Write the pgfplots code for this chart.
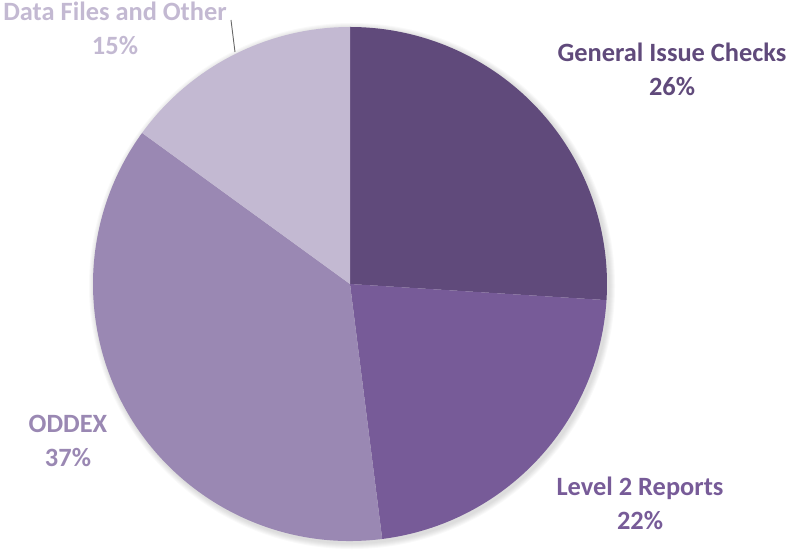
\documentclass[border=0pt]{standalone}
\usepackage{pgfplots}
\pgfplotsset{compat=1.18}
\usepackage{fontspec}
\setmainfont{Carlito}
\definecolor{genc}{HTML}{604A7B}
\definecolor{levc}{HTML}{775B98}
\definecolor{oddc}{HTML}{9A88B3}
\definecolor{datc}{HTML}{C3B9D2}

% slice: start angle, percent, colour (clockwise from start)
\newcommand{\slice}[3]{%
  \fill[#3] (axis cs:350,258) -- ++(#1:257bp)
    arc[start angle=#1, delta angle=-3.6*#2, radius=257bp] -- cycle;}

\begin{document}
\begin{tikzpicture}
\begin{axis}[
    x=1bp, y=1bp,
    xmin=0, xmax=788, ymin=0, ymax=542,
    hide axis, clip=false,
]
\path (axis cs:0,0) rectangle (axis cs:788,542);
% soft shadow
\pgfplotsinvokeforeach{1,...,6}{
  \fill[black, opacity=0.025] (axis cs:352,256) circle[radius=257bp+#1bp];
}
% shares: 26, 22, 37, 15 (%)
\slice{90}{26}{genc}
\slice{-3.6}{22}{levc}
\slice{-82.8}{37}{oddc}
\slice{-216}{15}{datc}

\draw[gray!80!black, line width=0.9pt] (axis cs:231,522) -- (axis cs:235,490);

\begin{scope}[every node/.style={align=center, inner sep=0pt, font=\fontsize{26.5}{34}\selectfont\bfseries}]
\node[text=genc] at (axis cs:672,473) {General Issue Checks\\26\%};
\node[text=levc] at (axis cs:640,39) {Level 2 Reports\\22\%};
\node[text=oddc] at (axis cs:68,101) {ODDEX\\37\%};
\node[text=datc] at (axis cs:115,514) {Data Files and Other\\15\%};
\end{scope}
\end{axis}
\end{tikzpicture}
\end{document}
